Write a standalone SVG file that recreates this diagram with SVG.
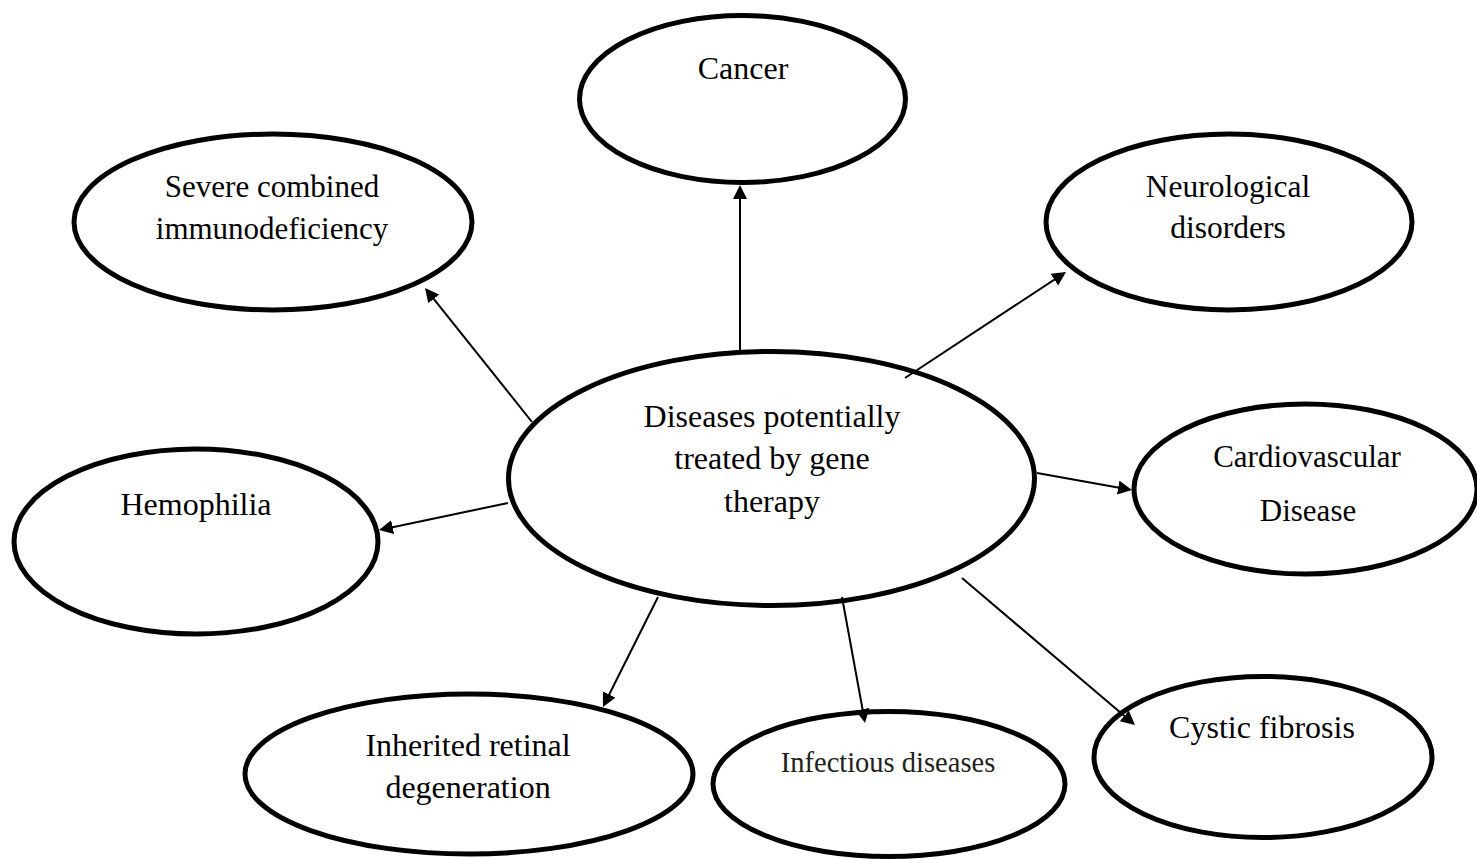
<svg xmlns="http://www.w3.org/2000/svg" width="1477" height="859" viewBox="0 0 1477 859">
<style>
.node ellipse{fill:#fff;stroke:#000;stroke-width:5}
.node text{font-family:"Liberation Serif","Times New Roman",serif;font-size:32px;fill:#000;text-anchor:middle}
.conn line{stroke:#000;stroke-width:2;fill:none}
</style>
<defs>
<marker id="arr" markerUnits="userSpaceOnUse" markerWidth="16" markerHeight="16" refX="11" refY="7" orient="auto">
<path d="M0,0 L14,7 L0,14 z" fill="#000"/>
</marker>
</defs>
<rect width="1477" height="859" fill="#fff"/>
<g id="n-cancer" class="node"><ellipse cx="742.5" cy="99" rx="163" ry="83.5"/><text x="743" y="79">Cancer</text></g>
<g id="n-scid" class="node"><ellipse cx="273" cy="222" rx="199" ry="88"/><text x="272" y="197" style="font-size:31px">Severe combined</text><text x="272" y="239" style="font-size:31px">immunodeficiency</text></g>
<g id="n-neuro" class="node"><ellipse cx="1229" cy="222" rx="183" ry="88"/><text x="1228" y="197" style="font-size:31.5px">Neurological</text><text x="1228" y="238" style="font-size:31.5px">disorders</text></g>
<g id="n-center" class="node"><ellipse cx="771.5" cy="478.5" rx="263" ry="127"/><text x="772" y="427">Diseases potentially</text><text x="772" y="469">treated by gene</text><text x="772" y="512">therapy</text></g>
<g id="n-cardio" class="node"><ellipse cx="1305.5" cy="489" rx="171.5" ry="85"/><text x="1307" y="467" style="font-size:31px">Cardiovascular</text><text x="1308" y="521" style="font-size:31px">Disease</text></g>
<g id="n-hemo" class="node"><ellipse cx="196" cy="541.5" rx="182" ry="92.5"/><text x="196" y="515">Hemophilia</text></g>
<g id="n-retinal" class="node"><ellipse cx="469" cy="774" rx="224" ry="80"/><text x="468" y="756">Inherited retinal</text><text x="468" y="798">degeneration</text></g>
<g id="n-infect" class="node"><ellipse cx="889" cy="784" rx="176" ry="72.5"/><text x="888" y="772" style="font-size:28.5px;fill:#231f20">Infectious diseases</text></g>
<g id="n-cystic" class="node"><ellipse cx="1263" cy="757" rx="169" ry="80.5"/><text x="1262" y="738">Cystic fibrosis</text></g>
<g id="connectors" class="conn">
<line x1="740" y1="350" x2="740" y2="188" marker-end="url(#arr)"/>
<line x1="532" y1="422" x2="426.9" y2="290.3" marker-end="url(#arr)"/>
<line x1="905" y1="378" x2="1063.5" y2="273.6" marker-end="url(#arr)"/>
<line x1="1037" y1="473" x2="1129" y2="489.5" marker-end="url(#arr)"/>
<line x1="508" y1="503" x2="381.9" y2="529.4" marker-end="url(#arr)"/>
<line x1="658" y1="597" x2="604.3" y2="704.3" marker-end="url(#arr)"/>
<line x1="842" y1="597" x2="864.5" y2="720" marker-end="url(#arr)"/>
<line x1="962" y1="578" x2="1132.7" y2="723.1" marker-end="url(#arr)"/>
</g>
</svg>
